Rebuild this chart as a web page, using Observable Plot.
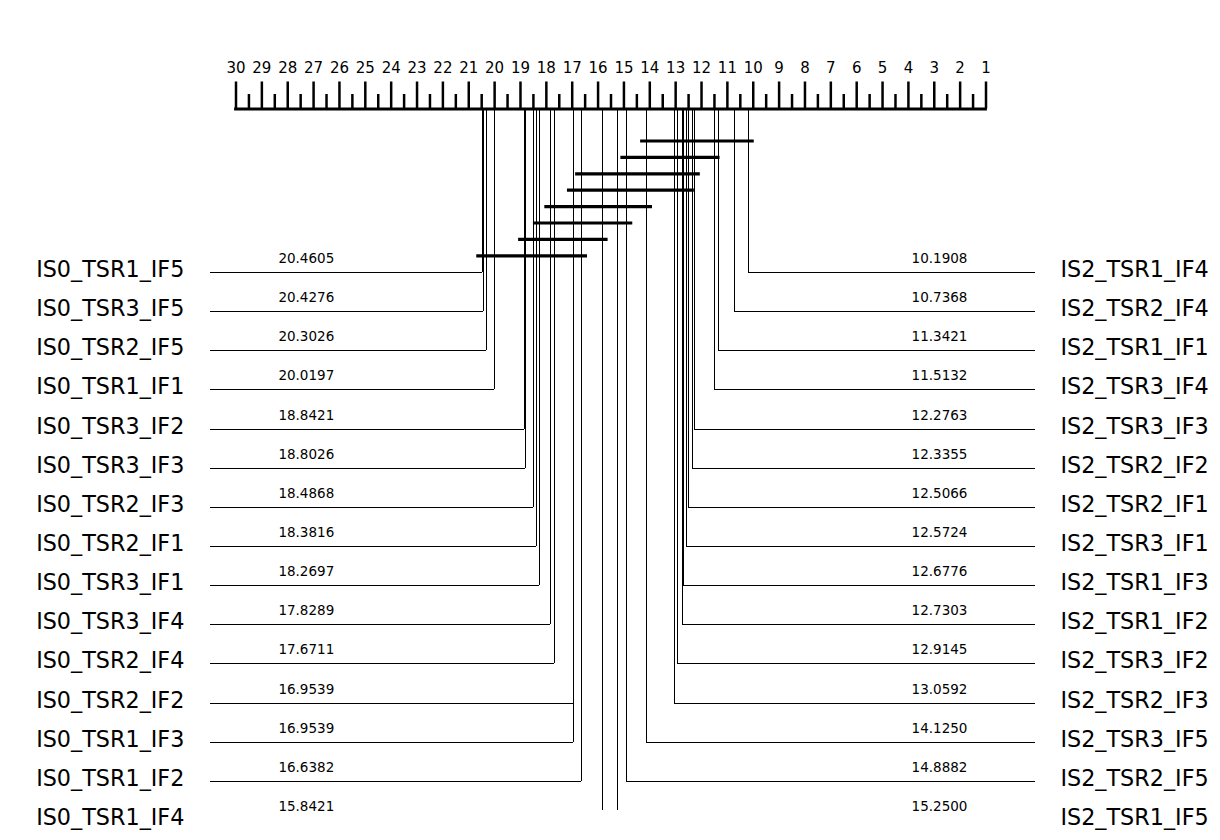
<!DOCTYPE html>
<html>
<head>
<meta charset="utf-8">
<script src="https://cdn.jsdelivr.net/npm/d3@7"></script>
<script src="https://cdn.jsdelivr.net/npm/@observablehq/plot@0.6"></script>
<style>
  html, body { margin: 0; padding: 0; background: #fff; }
  #chart svg { display: block; }
</style>
</head>
<body>
<div id="chart"></div>
<script>
// ---- data ----
const axisRanks = d3.range(1, 31);
const minorRanks = d3.range(1.5, 30, 1);

const leftNames = ["IS0_TSR1_IF5","IS0_TSR3_IF5","IS0_TSR2_IF5","IS0_TSR1_IF1","IS0_TSR3_IF2","IS0_TSR3_IF3","IS0_TSR2_IF3","IS0_TSR2_IF1","IS0_TSR3_IF1","IS0_TSR3_IF4","IS0_TSR2_IF4","IS0_TSR2_IF2","IS0_TSR1_IF3","IS0_TSR1_IF2","IS0_TSR1_IF4"];
const leftRanks = [20.4605,20.4276,20.3026,20.0197,18.8421,18.8026,18.4868,18.3816,18.2697,17.8289,17.6711,16.9539,16.9539,16.6382,15.8421];

const rightNames = ["IS2_TSR1_IF4","IS2_TSR2_IF4","IS2_TSR1_IF1","IS2_TSR3_IF4","IS2_TSR3_IF3","IS2_TSR2_IF2","IS2_TSR2_IF1","IS2_TSR3_IF1","IS2_TSR1_IF3","IS2_TSR1_IF2","IS2_TSR3_IF2","IS2_TSR2_IF3","IS2_TSR3_IF5","IS2_TSR2_IF5","IS2_TSR1_IF5"];
const rightRanks = [10.1908,10.7368,11.3421,11.5132,12.2763,12.3355,12.5066,12.5724,12.6776,12.7303,12.9145,13.0592,14.1250,14.8882,15.2500];

// critical-difference cliques (worst rank, best rank)
const cliqueHigh = [14.1250,14.8882,16.6382,16.9539,17.8289,18.2697,18.8421,20.4605];
const cliqueLow  = [10.1908,11.5132,12.2763,12.5066,14.1250,14.8882,15.8421,16.6382];

// ---- layout ----
const AXIS_Y = 108.5, ROW0 = 271, ROWGAP = 39.14, BAR0 = 140.5, BARGAP = 16.4;
const LEFT_EDGE = 30.99, RIGHT_EDGE = -0.91, BAR_PAD = 0.23;
const rowY = i => Math.round(ROW0 + i * ROWGAP) + 0.5;

const left = leftNames.map((name, i) => ({name, rank: leftRanks[i], row: rowY(i)}));
const right = rightNames.map((name, i) => ({name, rank: rightRanks[i], row: rowY(i)}));
const all = left.concat(right);
const cliques = cliqueHigh.map((h, k) => ({hi: h + BAR_PAD, lo: cliqueLow[k] - BAR_PAD, y: BAR0 + k * BARGAP}));

const fmt = d3.format(".4f");
const thin = {strokeWidth: 1, clip: true, shapeRendering: "crispEdges"};

const chart = Plot.plot({
  width: 1220,
  height: 840,
  marginTop: 108,
  marginBottom: 30,
  marginLeft: 0,
  marginRight: 0,
  style: {fontFamily: "'DejaVu Sans', sans-serif", background: "#fff", color: "#000"},
  x: {domain: [30, 1], range: [235.5, 985.5], label: null, axis: null},
  y: {domain: [0, 840], range: [0, 840], axis: null},
  marks: [
    // major ticks and labels
    Plot.ruleX(axisRanks, {x: d => d, y1: 81.5, y2: AXIS_Y, strokeWidth: 2.5}),
    Plot.text(axisRanks, {x: d => d, y: 72, text: d => String(d), lineAnchor: "bottom", fontSize: 15}),
    // minor ticks
    Plot.ruleX(minorRanks, {x: d => d, y1: 94, y2: AXIS_Y, strokeWidth: 2.5}),
    // axis line
    Plot.ruleY([AXIS_Y], {x1: 30, x2: 1, strokeWidth: 2.8, strokeLinecap: "square"}),
    // vertical connectors
    Plot.ruleX(all, {x: "rank", y1: AXIS_Y, y2: "row", ...thin}),
    // horizontal connectors
    Plot.ruleY(left, {y: "row", x1: LEFT_EDGE, x2: "rank", ...thin}),
    Plot.ruleY(right, {y: "row", x1: "rank", x2: RIGHT_EDGE, ...thin}),
    // clique bars
    Plot.ruleY(cliques, {y: "y", x1: "hi", x2: "lo", strokeWidth: 3.2}),
    // method labels
    Plot.text(left, {x: LEFT_EDGE, y: "row", text: "name", textAnchor: "end", dx: -26, dy: -2, fontSize: 22.3}),
    Plot.text(right, {x: RIGHT_EDGE, y: "row", text: "name", textAnchor: "start", dx: 25, dy: -2, fontSize: 22.3}),
    // rank values
    Plot.text(left, {x: LEFT_EDGE, y: "row", text: d => fmt(d.rank), textAnchor: "start", dx: 68, dy: -13.5, fontSize: 13.5}),
    Plot.text(right, {x: RIGHT_EDGE, y: "row", text: d => fmt(d.rank), textAnchor: "end", dx: -68, dy: -13.5, fontSize: 13.5})
  ]
});

document.getElementById("chart").appendChild(chart);
</script>
</body>
</html>
